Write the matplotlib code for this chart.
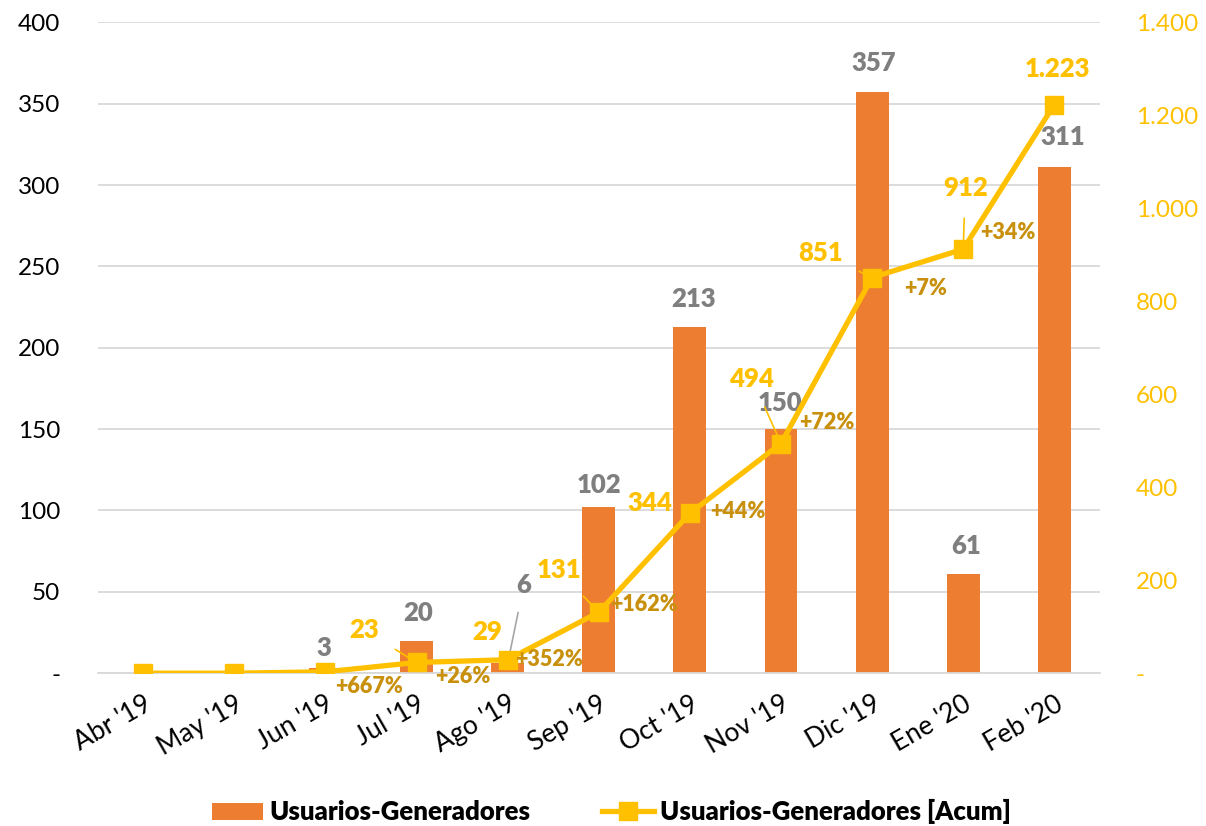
import matplotlib.pyplot as plt
import matplotlib.ticker as mticker
import numpy as np

months = ["Abr '19", "May '19", "Jun '19", "Jul '19", "Ago '19", "Sep '19",
          "Oct '19", "Nov '19", "Dic '19", "Ene '20", "Feb '20"]
usuarios = [0, 0, 3, 20, 6, 102, 213, 150, 357, 61, 311]
acumulado = [0, 0, 3, 23, 29, 131, 344, 494, 851, 912, 1223]
crecimiento = ["", "", "+667%", "+26%", "+352%", "+162%", "+44%", "+72%", "+7%", "+34%", ""]

BAR = '#ED7D31'
GOLD = '#FFC000'
DARKGOLD = '#C8900C'
GRAY = '#7F7F7F'

plt.rcParams['font.family'] = ['Lato', 'DejaVu Sans']

fig = plt.figure(figsize=(12.06, 8.26), dpi=100)
ax = fig.add_axes([0.081, 0.185, 0.831, 0.788])
ax2 = ax.twinx()

x = np.arange(len(months))
ax.bar(x, usuarios, width=0.36, color=BAR, zorder=2, label='Usuarios-Generadores')
ax2.plot(x, acumulado, color=GOLD, lw=3.8, marker='s', ms=13, zorder=3,
         label='Usuarios-Generadores [Acum]')

ax.set_xlim(-0.5, len(months) - 0.5)
ax.set_ylim(0, 400)
ax2.set_ylim(0, 1400)
ax.set_yticks(np.arange(0, 401, 50))
ax2.set_yticks(np.arange(0, 1401, 200))


def fmt(v, pos=None):
    if v == 0:
        return '-'
    return f'{int(v):,}'.replace(',', '.')


ax.yaxis.set_major_formatter(mticker.FuncFormatter(fmt))
ax2.yaxis.set_major_formatter(mticker.FuncFormatter(fmt))
ax.grid(axis='y', color='#D9D9D9', lw=1.3, zorder=0)
ax.set_axisbelow(True)
for a in (ax, ax2):
    for s in a.spines.values():
        s.set_visible(False)
ax.spines['bottom'].set_visible(True)
ax.spines['bottom'].set_color('#D9D9D9')
ax.spines['bottom'].set_linewidth(1.3)

ax.tick_params(axis='y', length=0, labelsize=17.5, pad=27)
ax2.tick_params(axis='y', length=0, labelsize=17.5, labelcolor=GOLD, pad=26)
ax.tick_params(axis='x', length=0, labelsize=19, pad=13)
ax.set_xticks(x)
ax.set_xticklabels(months, rotation=30, ha='right', rotation_mode='anchor')

# etiquetas de barras (offsets en px)
bar_off = {2: (-2, 20), 3: (2, 28), 4: (16, 78), 5: (0, 22), 6: (4, 28),
           7: (-1, 26), 8: (2, 29), 9: (3, 28), 10: (8, 30)}
for i, v in enumerate(usuarios):
    if v == 0:
        continue
    dx, dy = bar_off[i]
    arrow = None
    if i == 4:
        arrow = dict(arrowstyle='-', color='#A6A6A6', lw=1.2, shrinkA=9, shrinkB=0)
    ax.annotate(str(v), (i, v), xytext=(dx * 0.72, dy * 0.72), textcoords='offset points',
                ha='center', va='center', fontsize=18.5, fontweight='heavy', color=GRAY,
                arrowprops=arrow, zorder=5)

# etiquetas acumuladas
acc_off = {3: (-52, 32), 4: (-20, 28), 5: (-40, 42), 6: (-40, 10), 7: (-29, 65),
           8: (-52, 25), 9: (2, 61), 10: (3, 36)}
leader = {3, 5, 7, 8, 9}
for i, v in enumerate(acumulado):
    if i not in acc_off:
        continue
    dx, dy = acc_off[i]
    arrow = None
    if i in leader:
        arrow = dict(arrowstyle='-', color=GOLD, lw=1.2, shrinkA=11, shrinkB=0)
    ax2.annotate(fmt(v), (i, v), xytext=(dx * 0.72, dy * 0.72), textcoords='offset points',
                 ha='center', va='center', fontsize=18.5, fontweight='heavy', color=GOLD,
                 arrowprops=arrow, zorder=5)

# crecimiento
pct_off = {2: (44, -15), 3: (46, -14), 4: (41, 0), 5: (45, 8), 6: (48, 2),
           7: (46, 21), 8: (53, -11), 9: (45, 17)}
for i, t in enumerate(crecimiento):
    if not t:
        continue
    dx, dy = pct_off[i]
    ax2.annotate(t, (i, acumulado[i]), xytext=(dx * 0.72, dy * 0.72), textcoords='offset points',
                 ha='center', va='center', fontsize=15.5, fontweight='heavy', color=DARKGOLD,
                 zorder=5)

h1, l1 = ax.get_legend_handles_labels()
h2, l2 = ax2.get_legend_handles_labels()
fig.legend(h1 + h2, l1 + l2, loc='center', bbox_to_anchor=(0.507, 0.017), ncol=2,
           frameon=False, prop={'size': 18.5, 'weight': 'heavy'}, columnspacing=2.8,
           handlelength=2.0, handletextpad=0.25, markerscale=1.0)

plt.savefig('out.png', dpi=100)
